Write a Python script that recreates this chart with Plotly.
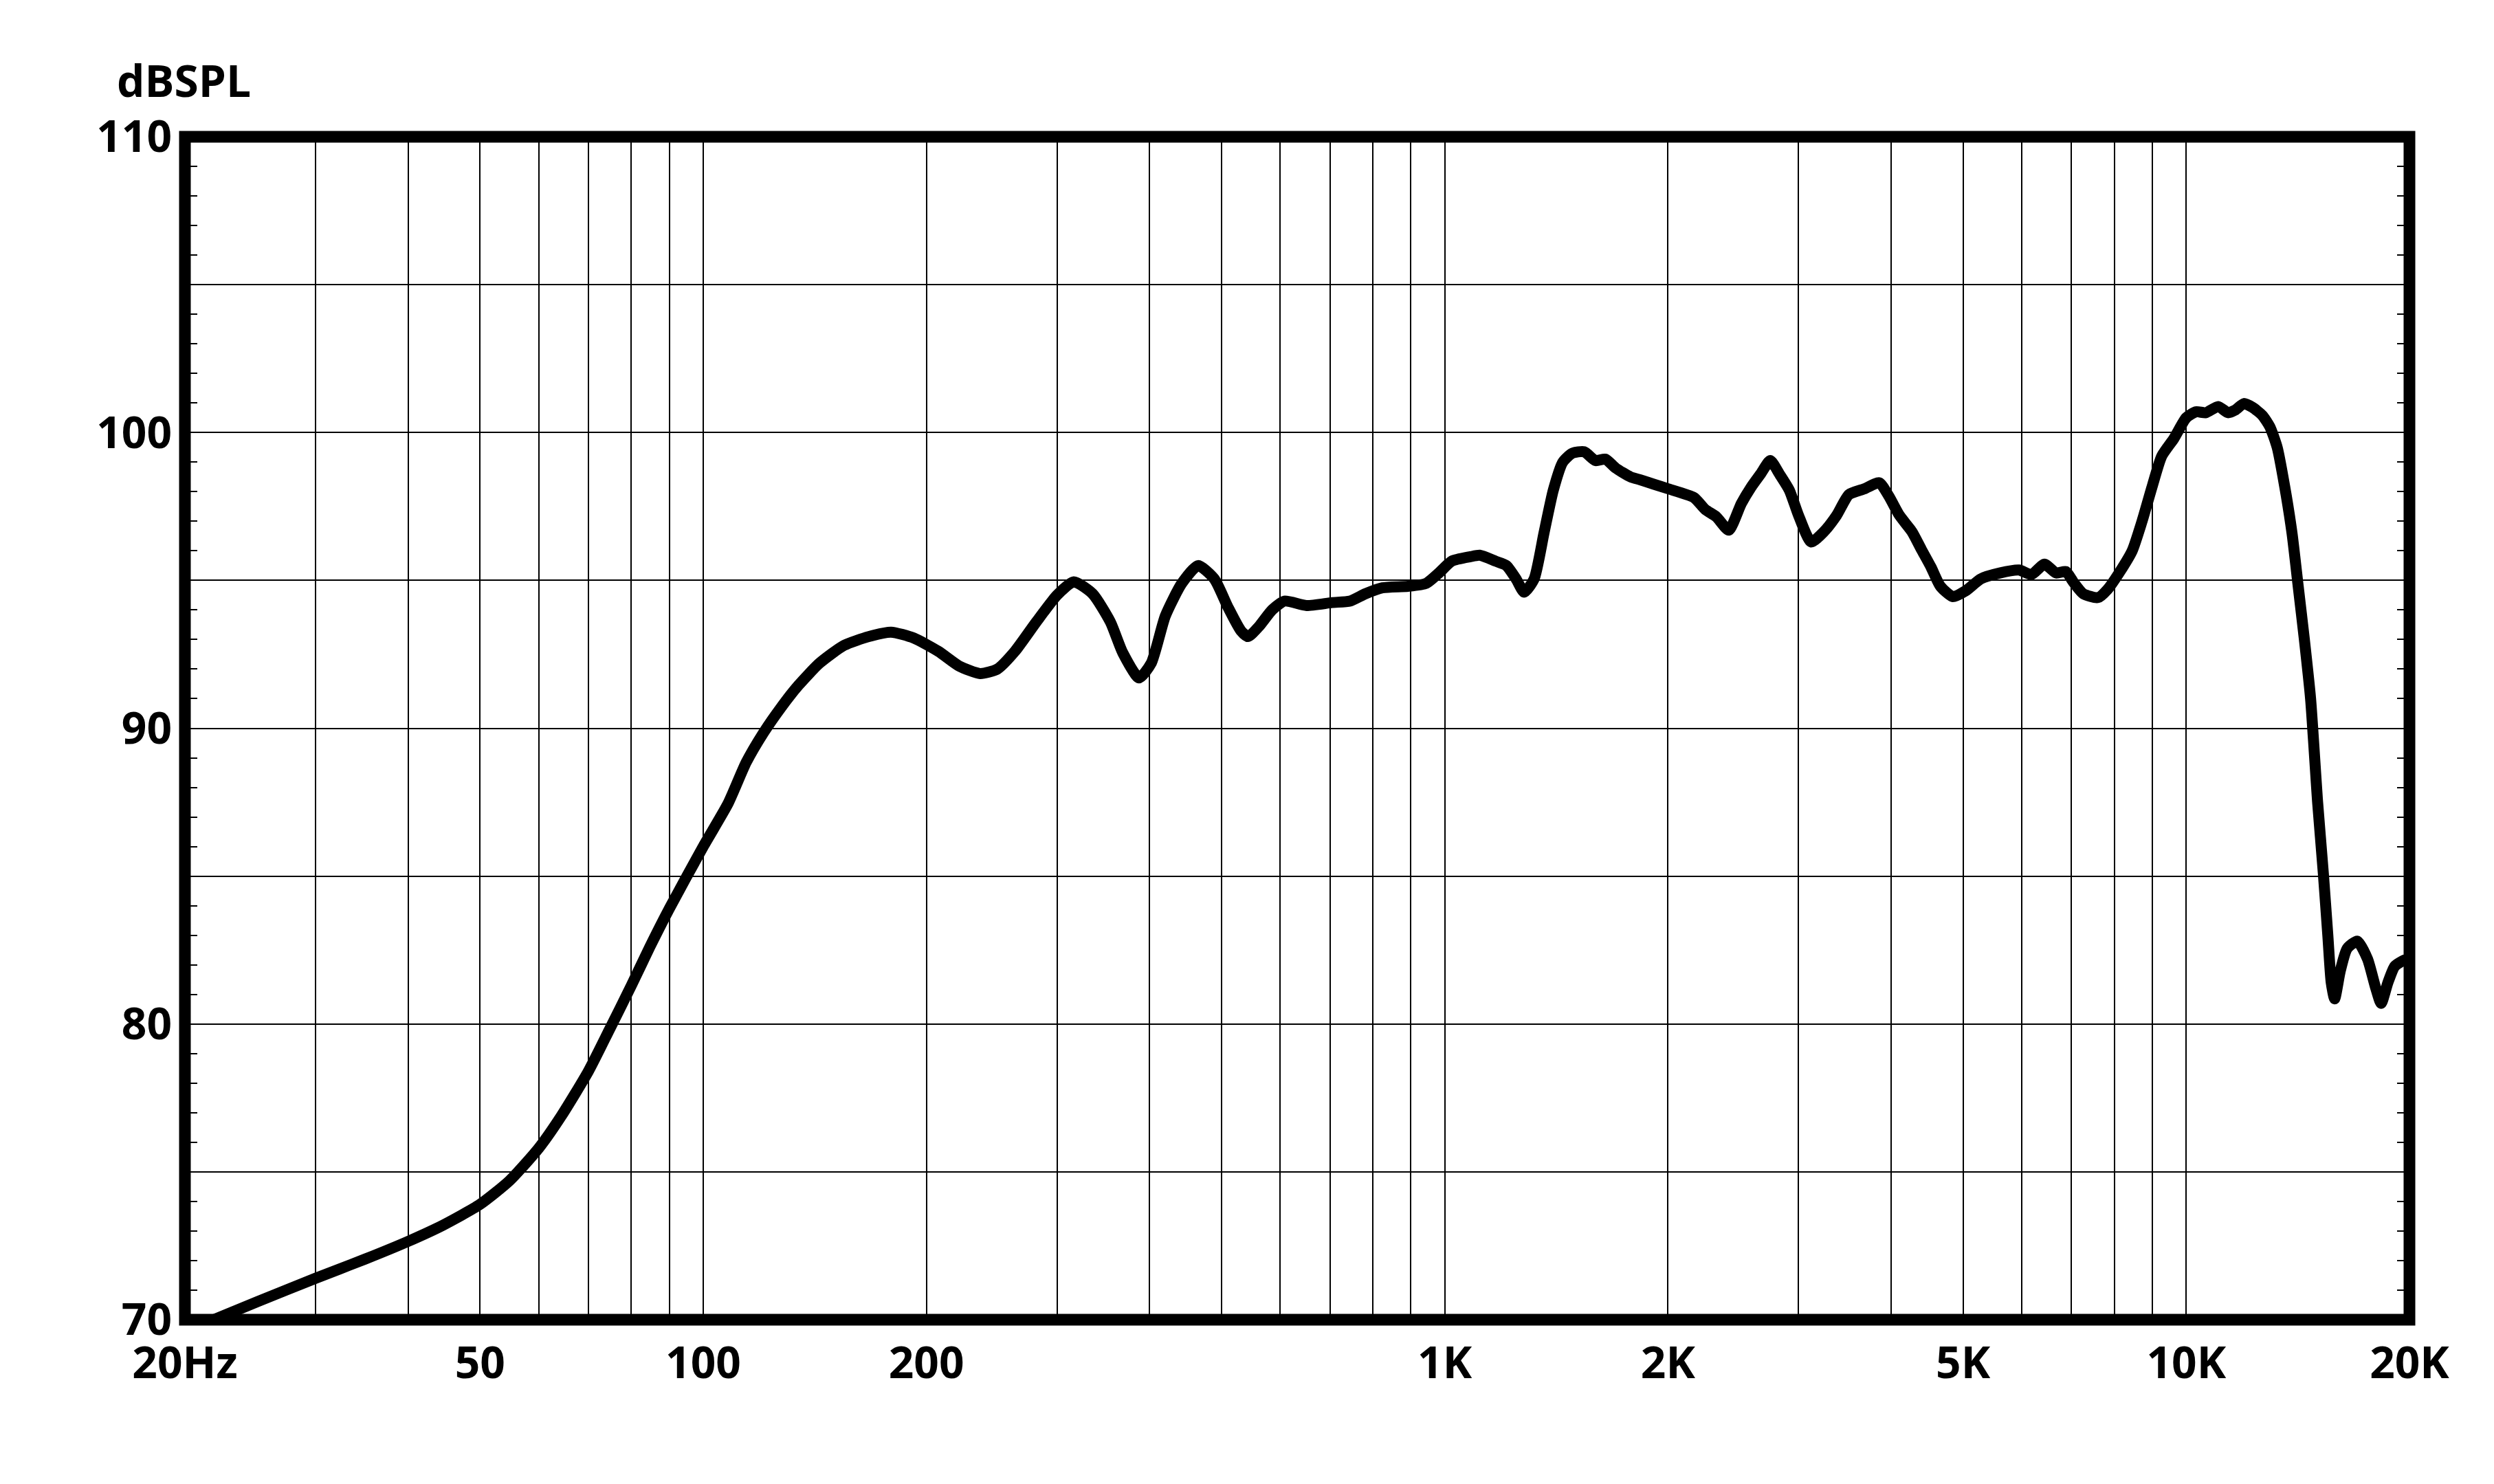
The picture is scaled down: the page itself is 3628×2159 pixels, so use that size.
import math
import plotly.graph_objects as go

# Frequency response (Hz) and level (dB SPL)
freq_hz = [20, 25, 30, 35, 40, 44.6, 50, 54.8, 60, 64.4, 70, 74.7, 80, 84.7, 90, 100,
           108, 114.3, 120.6, 127.3, 134.4, 143.5, 154.8, 167.2, 179.2, 192.3, 207.6,
           221.5, 236.3, 249.2, 263.2, 281.4, 300, 316, 335, 354, 368, 387, 402, 420,
           442, 465, 489, 510, 531, 543, 562, 585, 608, 651, 705, 745, 782, 824, 892,
           944, 982, 1022, 1083, 1115, 1171, 1211, 1248, 1280, 1320, 1361, 1401, 1443,
           1486, 1542, 1597, 1647, 1700, 1780, 1836, 1916, 2000, 2169, 2245, 2324, 2416,
           2512, 2589, 2667, 2748, 2827, 2916, 3000, 3120, 3247, 3377, 3508, 3685, 3856,
           3971, 4104, 4266, 4393, 4527, 4661, 4845, 5044, 5283, 5606, 5949, 6186, 6440,
           6676, 6881, 7040, 7261, 7605, 7835, 8141, 8455, 8718, 8990, 9266, 9626, 10000,
           10310, 10628, 11042, 11383, 11646, 11961, 12286, 12667, 12962, 13263, 13571,
           13888, 14158, 14432, 14713, 15038, 15307, 15522, 15687, 15854, 16136, 16480,
           17011, 17558, 17996, 18317, 18706, 19104, 19635, 20000]
spl_db = [69.6, 70.6, 71.4, 72.05, 72.65, 73.2, 73.9, 74.7, 75.8, 76.9, 78.4, 79.8, 81.3,
          82.6, 83.9, 86.0, 87.45, 88.85, 89.85, 90.7, 91.45, 92.2, 92.8, 93.1, 93.25, 93.05,
          92.6, 92.1, 91.85, 92.0, 92.6, 93.6, 94.5, 94.95, 94.55, 93.6, 92.55, 91.7, 92.2,
          93.8, 94.9, 95.5, 95.05, 94.1, 93.3, 93.1, 93.45, 94.0, 94.3, 94.15, 94.25, 94.3,
          94.55, 94.75, 94.8, 94.9, 95.25, 95.65, 95.8, 95.85, 95.65, 95.5, 95.05, 94.6,
          95.05, 96.6, 98.05, 99.0, 99.3, 99.35, 99.05, 99.1, 98.8, 98.5, 98.4, 98.25, 98.1,
          97.8, 97.4, 97.15, 96.7, 97.6, 98.15, 98.6, 99.05, 98.6, 98.05, 97.2, 96.3, 96.65,
          97.2, 97.9, 98.1, 98.3, 97.85, 97.2, 96.65, 96.05, 95.45, 94.8, 94.45, 94.65,
          95.05, 95.25, 95.35, 95.2, 95.55, 95.25, 95.3, 94.95, 94.55, 94.42, 94.7, 95.3,
          96.0, 97.0, 98.15, 99.2, 99.8, 100.5, 100.7, 100.67, 100.88, 100.67, 100.76,
          100.98, 100.85, 100.58, 100.2, 99.5, 98.2, 96.6, 94.8, 93.0, 91.0, 87.5, 85.1,
          83.0, 81.4, 80.85, 81.8, 82.55, 82.8, 82.2, 81.25, 80.7, 81.4, 81.95, 82.15, 82.2]

# Axis tick labels
x_tick_vals = [20, 50, 100, 200, 1000, 2000, 5000, 10000, 20000]
x_tick_text = ["20Hz", "50", "100", "200", "1K", "2K", "5K", "10K", "20K"]
x_grid_vals = [30, 40, 50, 60, 70, 80, 90, 100, 200, 300, 400, 500, 600, 700, 800, 900,
               1000, 2000, 3000, 4000, 5000, 6000, 7000, 8000, 9000, 10000]
y_tick_vals = [70, 75, 80, 85, 90, 95, 100, 105, 110]
y_tick_text = ["70", "", "80", "", "90", "", "100", "", "110"]
y_title = "dBSPL"

W, H = 3628, 2159
L, R, T, B = 261, 3497, 191, 1912

label_font = dict(family="Open Sans", size=64, color="black", weight="bold")

fig = go.Figure()
fig.add_trace(go.Scatter(
    x=freq_hz, y=spl_db, mode="lines",
    line=dict(color="black", width=16, shape="spline", smoothing=0.6),
    hoverinfo="skip",
))

fig.update_layout(
    width=W, height=H,
    margin=dict(l=L, r=W - R, t=T, b=H - B, pad=0),
    paper_bgcolor="white", plot_bgcolor="white",
    showlegend=False,
)

fig.update_xaxes(
    type="log", range=[math.log10(20), math.log10(20000)],
    tickmode="array", tickvals=x_tick_vals, ticktext=x_tick_text,
    tickfont=label_font, ticks="", ticklabelstandoff=20,
    showgrid=True, gridcolor="black", gridwidth=1.5,
    showline=False, zeroline=False,
    minor=dict(tickmode="array", tickvals=x_grid_vals, showgrid=True,
               gridcolor="black", gridwidth=1.5, ticks=""),
)

fig.update_yaxes(
    range=[70, 110],
    tickmode="array", tickvals=y_tick_vals, ticktext=y_tick_text,
    tickfont=label_font, ticks="inside", ticklen=18, tickwidth=2, tickcolor="black",
    ticklabelstandoff=18,
    showgrid=True, gridcolor="black", gridwidth=1.5,
    showline=False, mirror="ticks", zeroline=False,
    minor=dict(dtick=1, ticks="inside", ticklen=18, tickwidth=2,
               tickcolor="black", showgrid=False),
)

# Heavy frame around the plotting area
fig.add_shape(type="rect", xref="paper", yref="paper", x0=0, x1=1, y0=0, y1=1,
              line=dict(color="black", width=17), fillcolor="rgba(0,0,0,0)",
              layer="above")

fig.add_annotation(
    text=y_title, xref="paper", yref="paper",
    x=(160 - L) / (R - L), y=(B - 108) / (B - T),
    xanchor="left", yanchor="middle", showarrow=False,
    font=label_font,
)

fig.write_html("out.html")
